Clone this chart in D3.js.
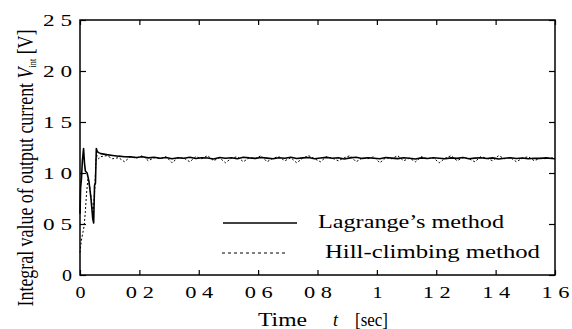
<!DOCTYPE html>
<html><head><meta charset="utf-8">
<script src="https://cdn.jsdelivr.net/npm/d3@7"></script>
<style>
body{margin:0;background:#fff}
svg{display:block}
text{font-family:"Liberation Serif","Times New Roman",serif;fill:#000}
</style>
</head><body><svg id="c" width="572" height="329"></svg>
<script>
const xTickValues=[0,0.2,0.4,0.6,0.8,1.0,1.2,1.4,1.6];
const xTickLabels=["0","0 2","0 4","0 6","0 8","1","1 2","1 4","1 6"];
const yTickValues=[0,0.5,1.0,1.5,2.0,2.5];
const yTickLabels=["0","0 5","1 0","1 5","2 0","2 5"];
const seriesNames=["Lagrange’s method","Hill-climbing  method"];

// transient part
const lagrangeStartTime=[0,0.002,0.005,0.008,0.012,0.015,0.018,0.024,0.03,0.037,0.043,0.046,0.049,0.052,0.055,0.058,0.063];
const lagrangeStartValue=[0.6,0.85,0.95,1.12,1.24,1.1,1.02,1.0,0.92,0.75,0.55,0.51,0.88,0.9,1.24,1.21,1.2];
const hillStartTime=[0,0.003,0.006,0.01,0.014,0.018,0.022,0.027,0.032,0.038,0.044,0.05,0.054,0.058,0.063];
const hillStartValue=[0.22,0.3,0.36,0.42,0.48,0.62,0.8,0.95,0.88,0.75,0.6,0.85,1.15,1.17,1.14];

// steady part
const steadyTime=[0.07,0.09,0.11,0.13,0.15,0.17,0.19,0.21,0.23,0.25,
0.27,0.29,0.31,0.33,0.35,0.37,0.39,0.41,0.43,0.45,
0.47,0.49,0.51,0.53,0.55,0.57,0.59,0.61,0.63,0.65,
0.67,0.69,0.71,0.73,0.75,0.77,0.79,0.81,0.83,0.85,
0.87,0.89,0.91,0.93,0.95,0.97,0.99,1.01,1.03,1.05,
1.07,1.09,1.11,1.13,1.15,1.17,1.19,1.21,1.23,1.25,
1.27,1.29,1.31,1.33,1.35,1.37,1.39,1.41,1.43,1.45,
1.47,1.49,1.51,1.53,1.55,1.57,1.59,1.6];
const lagrangeSteady=[1.19,1.18,1.172,1.165,1.16,1.158,1.152,1.16,1.148,1.155,
1.145,1.152,1.14,1.15,1.145,1.155,1.142,1.15,1.147,1.138,
1.152,1.145,1.15,1.14,1.155,1.148,1.143,1.152,1.146,1.14,
1.15,1.145,1.155,1.142,1.148,1.152,1.14,1.147,1.153,1.144,
1.15,1.138,1.148,1.155,1.143,1.15,1.145,1.14,1.152,1.146,
1.141,1.15,1.144,1.138,1.148,1.142,1.15,1.145,1.14,1.148,
1.143,1.152,1.14,1.146,1.15,1.142,1.148,1.138,1.145,1.15,
1.142,1.147,1.14,1.145,1.143,1.148,1.142,1.14];
const hillSteady=[1.16,1.17,1.14,1.15,1.11,1.16,1.145,1.17,1.12,1.15,
1.14,1.16,1.1,1.15,1.145,1.11,1.16,1.14,1.17,1.12,
1.15,1.1,1.145,1.16,1.11,1.15,1.14,1.17,1.11,1.145,
1.16,1.12,1.15,1.1,1.145,1.17,1.14,1.11,1.16,1.145,
1.12,1.15,1.17,1.11,1.145,1.14,1.16,1.1,1.15,1.14,
1.17,1.12,1.145,1.11,1.16,1.14,1.15,1.1,1.145,1.17,
1.12,1.15,1.14,1.11,1.16,1.145,1.12,1.17,1.14,1.15,
1.11,1.145,1.16,1.12,1.145,1.14,1.15,1.14];

const svg=d3.select("#c");
const L=80,R=555,T=20,B=275;
const x=d3.scaleLinear().domain([0,1.6]).range([L,R]);
const y=d3.scaleLinear().domain([0,2.5]).range([B,T]);

const lagr=lagrangeStartTime.map((t,i)=>[t,lagrangeStartValue[i]]).concat(steadyTime.map((t,i)=>[t,lagrangeSteady[i]]));
const hill=hillStartTime.map((t,i)=>[t,hillStartValue[i]]).concat(steadyTime.map((t,i)=>[t,hillSteady[i]]));
const line=d3.line().x(d=>x(d[0])).y(d=>y(d[1]));

svg.append("path").datum(hill).attr("d",line).attr("fill","none").attr("stroke","#000")
  .attr("stroke-width",1).attr("stroke-dasharray","2,2");
svg.append("path").datum(lagr).attr("d",line).attr("fill","none").attr("stroke","#000")
  .attr("stroke-width",1.6).attr("stroke-linejoin","round");

// axes (inward ticks)
function styleAxis(g){g.select(".domain").remove();g.selectAll("line").attr("stroke","#000").attr("stroke-width",1.2);}
const gb=svg.append("g").attr("transform",`translate(0,${B})`)
  .call(d3.axisBottom(x).tickValues(xTickValues).tickFormat((d,i)=>xTickLabels[i]).tickSizeInner(-5).tickSizeOuter(0).tickPadding(0));
styleAxis(gb);
gb.selectAll("text").attr("y",23).attr("dy",null).attr("font-size",17)
  .each(function(d,i){ d3.select(this).attr("textLength",xTickLabels[i].length>1?28:10).attr("lengthAdjust","spacingAndGlyphs");});
const gt=svg.append("g").attr("transform",`translate(0,${T})`)
  .call(d3.axisTop(x).tickValues(xTickValues).tickFormat("").tickSizeInner(-5).tickSizeOuter(0));
styleAxis(gt);
const gl=svg.append("g").attr("transform",`translate(${L},0)`)
  .call(d3.axisLeft(y).tickValues(yTickValues).tickFormat((d,i)=>yTickLabels[i]).tickSizeInner(-6).tickSizeOuter(0).tickPadding(0));
styleAxis(gl);
gl.selectAll("text").attr("x",-8).attr("dy","0.36em").attr("font-size",16)
  .each(function(d,i){ d3.select(this).attr("textLength",yTickLabels[i].length>1?29:10).attr("lengthAdjust","spacingAndGlyphs");});
const gr=svg.append("g").attr("transform",`translate(${R},0)`)
  .call(d3.axisRight(y).tickValues(yTickValues).tickFormat("").tickSizeInner(-6).tickSizeOuter(0));
styleAxis(gr);

svg.append("rect").attr("x",L).attr("y",T).attr("width",R-L).attr("height",B-T)
  .attr("fill","none").attr("stroke","#000").attr("stroke-width",1.5);

// axis titles
const xt=svg.append("text").attr("y",326).attr("font-size",18);
xt.append("tspan").attr("x",258).attr("textLength",49).attr("lengthAdjust","spacingAndGlyphs").text("Time");
xt.append("tspan").attr("x",333).attr("font-style","italic").text("t");
xt.append("tspan").attr("x",355).attr("textLength",33).attr("lengthAdjust","spacingAndGlyphs").text("[sec]");

const yt=svg.append("text").attr("transform","translate(33,168) rotate(-90)").attr("text-anchor","middle")
  .attr("font-size",24).attr("textLength",277).attr("lengthAdjust","spacingAndGlyphs");
yt.append("tspan").text("Integral value of output current ");
yt.append("tspan").attr("font-style","italic").text("V");
yt.append("tspan").attr("font-size",11).attr("dy",3).text("int");
yt.append("tspan").attr("dy",-3).text(" [V]");

// legend
const lg=svg.append("g");
lg.append("line").attr("x1",223).attr("x2",297).attr("y1",223).attr("y2",223).attr("stroke","#000").attr("stroke-width",1.5);
lg.append("text").attr("x",318).attr("y",228).attr("font-size",19).attr("textLength",186).attr("lengthAdjust","spacingAndGlyphs").text(seriesNames[0]);
lg.append("line").attr("x1",222).attr("x2",288).attr("y1",253).attr("y2",253).attr("stroke","#000").attr("stroke-width",1).attr("stroke-dasharray","3,3");
lg.append("text").attr("x",325).attr("y",258).attr("font-size",19).attr("textLength",215).attr("lengthAdjust","spacingAndGlyphs").text(seriesNames[1]);
</script></body></html>
